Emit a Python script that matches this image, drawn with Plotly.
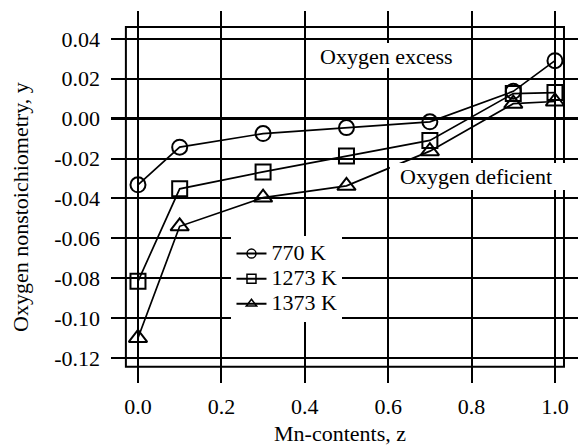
import plotly.graph_objects as go

z = [0.0, 0.1, 0.3, 0.5, 0.7, 0.9, 1.0]
y_770 = [-0.0332, -0.0143, -0.0075, -0.0045, -0.0016, 0.0137, 0.0291]
y_1273 = [-0.0816, -0.0352, -0.0267, -0.0187, -0.0109, 0.0126, 0.0131]
y_1373 = [-0.1100, -0.0540, -0.0396, -0.0337, -0.0163, 0.0075, 0.0086]
series_names = ["770 K", "1273 K", "1373 K"]
y_ticks = [0.04, 0.02, 0.00, -0.02, -0.04, -0.06, -0.08, -0.10, -0.12]
y_ticktext = ["0.04", "0.02", "0.00", "-0.02", "-0.04", "-0.06", "-0.08", "-0.10", "-0.12"]
x_ticks = [0.0, 0.2, 0.4, 0.6, 0.8, 1.0]
x_ticktext = ["0.0", "0.2", "0.4", "0.6", "0.8", "1.0"]

FONT = "Liberation Serif"
FS = 22
symbols = ["circle-open", "square-open", "triangle-up-open"]
sizes = [15, 15, 16]

fig = go.Figure()
for ys, name, sym, sz in zip([y_770, y_1273, y_1373], series_names, symbols, sizes):
    fig.add_trace(go.Scatter(
        x=z, y=ys, mode="lines+markers", showlegend=False,
        line=dict(color="black", width=1.7),
        marker=dict(symbol=sym, size=sz, color="black", line=dict(color="black", width=2)),
    ))
    fig.add_trace(go.Scatter(
        x=[None], y=[None], mode="lines+markers",
        name=f'<span style="font-size:{FS}px">{name}</span>',
        line=dict(color="black", width=2),
        marker=dict(symbol=sym, size=9, color="black", line=dict(color="black", width=1.5)),
    ))

# frame
fig.add_shape(type="rect", xref="x", yref="y", x0=-0.029, x1=1.0216, y0=-0.1245, y1=0.046,
              line=dict(color="black", width=2), layer="above")
# white boxes behind the labels
fig.add_shape(type="rect", xref="x", yref="y", x0=0.42, x1=0.772, y0=0.0254, y1=0.038,
              line=dict(width=0), fillcolor="white", layer="above")
fig.add_shape(type="rect", xref="x", yref="y", x0=0.604, x1=1.029, y0=-0.0358, y1=-0.0222,
              line=dict(width=0), fillcolor="white", layer="above")

fig.add_annotation(x=0.597, y=0.031, xref="x", yref="y", text="Oxygen excess", showarrow=False,
                   font=dict(family=FONT, size=FS, color="black"))
fig.add_annotation(x=0.81, y=-0.0292, xref="x", yref="y", text="Oxygen deficient", showarrow=False,
                   font=dict(family=FONT, size=FS, color="black"))
fig.add_annotation(x=0.49, y=-0.135, xref="paper", yref="paper", text="Mn-contents, z", showarrow=False,
                   yanchor="middle", font=dict(family=FONT, size=FS, color="black"))
fig.add_annotation(x=-0.195, y=0.473, xref="paper", yref="paper", text="Oxygen nonstoichiometry, y",
                   showarrow=False, textangle=-90, xanchor="center", yanchor="middle",
                   font=dict(family=FONT, size=FS, color="black"))

fig.update_layout(
    width=578, height=447,
    margin=dict(l=111, r=0, t=11, b=64),
    paper_bgcolor="white", plot_bgcolor="white",
    font=dict(family=FONT, size=FS, color="black"),
    legend=dict(x=0.258, y=0.395, xanchor="left", yanchor="top", bgcolor="white",
                font=dict(family=FONT, size=17, color="black"), tracegroupgap=0),
    xaxis=dict(range=[-0.0647, 1.0552], tickvals=x_ticks, ticktext=x_ticktext,
               showgrid=True, gridcolor="black", gridwidth=2, zeroline=False, showline=False,
               ticks="", ticklabelstandoff=8),
    yaxis=dict(range=[-0.1326, 0.054], tickvals=y_ticks, ticktext=y_ticktext,
               showgrid=True, gridcolor="black", gridwidth=2, zeroline=True, zerolinecolor="black",
               zerolinewidth=3, showline=False, ticks="", ticklabelstandoff=10),
)

fig.write_html("out.html")
